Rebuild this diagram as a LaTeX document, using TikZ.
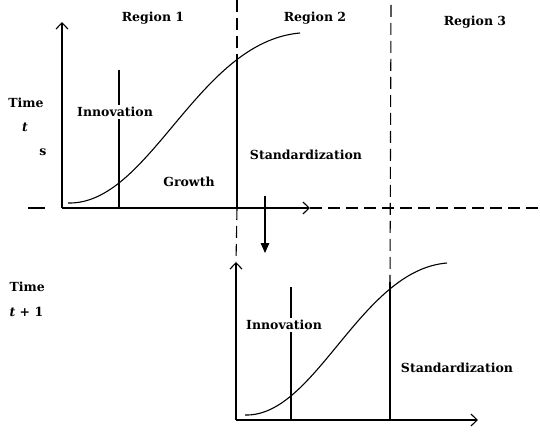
\documentclass[tikz,border=0pt]{standalone}
\usepackage{fontspec}
\setmainfont{DejaVu Serif}
\usetikzlibrary{arrows.meta}

\begin{document}
\begin{tikzpicture}[x=1pt, y=-1pt, line width=1.1pt,
	every node/.style={font=\bfseries\fontsize{12.5}{14}\selectfont, inner sep=1pt},
	>={Straight Barb[length=2.2mm, width=4.2mm]},
	dashline/.style={dash pattern=on 12pt off 6pt},
	gapnode/.style={fill=white, inner sep=2pt}]
	\useasboundingbox (0,0) rectangle (540,435);
	% top panel (time t)
	\coordinate (o1) at (62,208);
	\coordinate (y1) at (62,22);
	\coordinate (x1) at (310,208);
	\draw[->] (o1) -- (y1);
	\draw[->] (o1) -- (x1);
	\draw[dash pattern=on 17pt off 17pt] (28,208) -- (o1);
	\draw[dashline] (x1) -- (540,208);
	\draw (68,203) .. controls (150,205) and (197,42) .. (300,33);
	\draw (119,70) -- (119,208);
	\node[gapnode] (innov1) at (115,112) {Innovation};
	\coordinate (g1) at (237,57);
	\draw[dashline] (237,0) -- (g1);
	\draw (g1) -- (237,208);
	\node (growth) at (189,182) {Growth};
	\node (stand1) at (306,155) {Standardization};
	\node (reg1) at (153,18) {Region 1};
	\node (reg2) at (315,18) {Region 2};
	\node (reg3) at (475,22) {Region 3};
	\node (time1) at (26,103) {Time};
	\node (t1) at (25,127) {\textit{t}};
	\node (s1) at (43,152) {s};
	% bottom panel (time t+1)
	\coordinate (o2) at (236,420);
	\coordinate (y2) at (236,262);
	\coordinate (x2) at (478,420);
	\draw[->] (o2) -- (y2);
	\draw[->] (o2) -- (x2);
	\draw[dashline] (237,208) -- (y2);
	\draw (245,415) .. controls (316,417) and (360,270) .. (447,263);
	\draw (291,287) -- (291,420);
	\node[gapnode] (innov2) at (284,325) {Innovation};
	\coordinate (g2) at (390,282);
	\draw[dashline] (391,5) -- (g2);
	\draw (g2) -- (390,420);
	\node (stand2) at (457,368) {Standardization};
	\node[anchor=west] (time2) at (8,287) {Time};
	\node[anchor=west] (t2) at (8,312) {\textit{t} + 1};
	% shift to the next period
	\coordinate (a1) at (265,196);
	\coordinate (a2) at (265,253);
	\draw[-{Triangle[length=3.5mm, width=3mm]}] (a1) -- (a2);
\end{tikzpicture}
\end{document}
